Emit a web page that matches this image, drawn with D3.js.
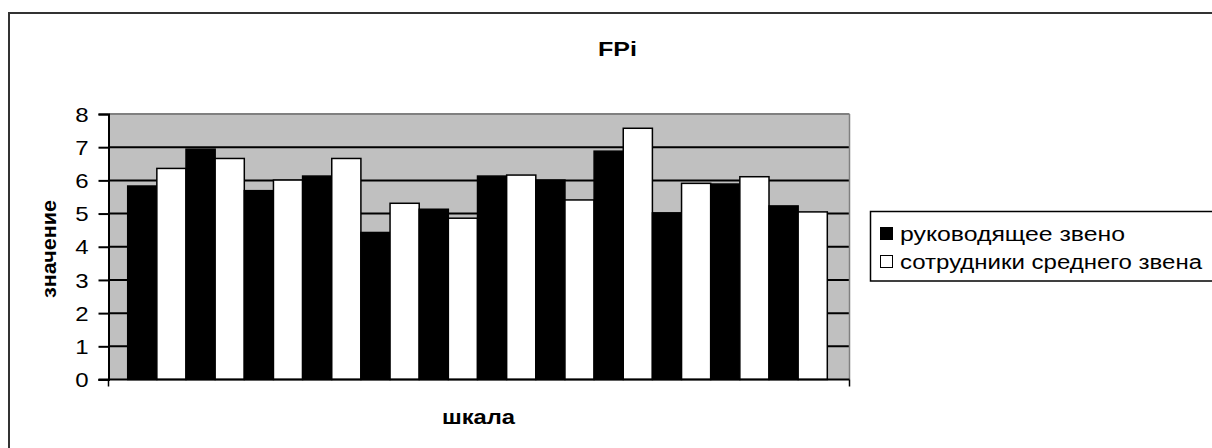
<!DOCTYPE html>
<html>
<head>
<meta charset="utf-8">
<script src="https://cdn.jsdelivr.net/npm/d3@7"></script>
<style>
  html, body { margin: 0; padding: 0; background: #fff; }
  svg { display: block; }
  text { font-family: "Liberation Sans", Arial, sans-serif; fill: #000; }
</style>
</head>
<body>
<svg id="chart" width="1212" height="448"></svg>
<script>
// Scale items (12 pairs of bars), one value per group for each series
const scales = ["1", "2", "3", "4", "5", "6", "7", "8", "9", "10", "11", "12"];
const seriesNames = ["руководящее звено", "сотрудники среднего звена"];
const managers = [5.83, 6.94, 5.69, 6.13, 4.43, 5.13, 6.13, 6.01, 6.88, 5.02, 5.89, 5.23];
const staff    = [6.36, 6.66, 6.01, 6.66, 5.31, 4.86, 6.16, 5.41, 7.57, 5.91, 6.11, 5.05];
const yTicks = [0, 1, 2, 3, 4, 5, 6, 7, 8];
const seriesColors = ["#000000", "#ffffff"];

const svg = d3.select("#chart");

// chart frame
svg.append("path")
  .attr("d", "M9,460 L9,13 L1220,13")
  .attr("fill", "none").attr("stroke", "#333").attr("stroke-width", 2);

const plot = { left: 108.5, right: 849.5, top: 114, bottom: 379.5 };

const y = d3.scaleLinear().domain([0, 8]).range([plot.bottom, plot.top]);
const x = d3.scaleBand().domain(scales).range([127.7, 827.3]).padding(0);
const xs = d3.scaleBand().domain(seriesNames).range([0, x.bandwidth()]).padding(0);

// plot background
svg.append("rect")
  .attr("x", plot.left).attr("y", plot.top)
  .attr("width", plot.right - plot.left).attr("height", plot.bottom - plot.top)
  .attr("fill", "#c0c0c0");

// gridlines
svg.append("g").selectAll("line")
  .data(yTicks.filter(d => d > 0))
  .join("line")
  .attr("x1", plot.left).attr("x2", plot.right)
  .attr("y1", d => y(d)).attr("y2", d => y(d))
  .attr("stroke", d => d === 8 ? "#808080" : "#000")
  .attr("stroke-width", 2);

// right edge of plot area
svg.append("line")
  .attr("x1", plot.right).attr("x2", plot.right)
  .attr("y1", plot.top).attr("y2", plot.bottom)
  .attr("stroke", "#808080").attr("stroke-width", 1.5);

// bars
const rows = scales.map((s, i) => ({ scale: s, values: [managers[i], staff[i]] }));
svg.append("g").selectAll("g")
  .data(rows)
  .join("g")
  .attr("transform", d => `translate(${x(d.scale)},0)`)
  .selectAll("rect")
  .data(d => d.values.map((v, j) => ({ name: seriesNames[j], value: v, j })))
  .join("rect")
  .attr("x", d => xs(d.name))
  .attr("width", xs.bandwidth())
  .attr("y", d => y(d.value))
  .attr("height", d => y(0) - y(d.value))
  .attr("fill", d => seriesColors[d.j])
  .attr("stroke", "#000")
  .attr("stroke-width", 1.5);

// y axis
const yAxis = svg.append("g")
  .attr("transform", `translate(${plot.left},0)`)
  .call(d3.axisLeft(y).tickValues(yTicks).tickSize(10).tickPadding(10).tickFormat(d3.format("d")));
yAxis.select(".domain").attr("stroke", "#000").attr("stroke-width", 2);
yAxis.selectAll(".tick line").attr("stroke", "#000").attr("stroke-width", 2);
yAxis.selectAll(".tick text")
  .attr("x", 0)
  .attr("dy", "0.36em")
  .attr("transform", "translate(-20,0) scale(1.2,1)")
  .style("font-size", "20px").attr("fill", "#000");

// x axis baseline with end ticks
svg.append("line")
  .attr("x1", plot.left - 10).attr("x2", plot.right)
  .attr("y1", plot.bottom).attr("y2", plot.bottom)
  .attr("stroke", "#000").attr("stroke-width", 2);
svg.selectAll(".xtick")
  .data([plot.left, plot.right])
  .join("line")
  .attr("x1", d => d).attr("x2", d => d)
  .attr("y1", plot.bottom).attr("y2", plot.bottom + 7)
  .attr("stroke", "#000").attr("stroke-width", 1.5);

// title
svg.append("text")
  .attr("x", 598).attr("y", 56)
  .attr("textLength", 39).attr("lengthAdjust", "spacingAndGlyphs")
  .style("font-size", "21px").style("font-weight", "bold")
  .text("FPi");

// axis titles
svg.append("text")
  .attr("transform", "translate(56,298) rotate(-90)")
  .attr("textLength", 98).attr("lengthAdjust", "spacingAndGlyphs")
  .style("font-size", "20px").style("font-weight", "bold")
  .text("значение");

svg.append("text")
  .attr("x", 442).attr("y", 424)
  .attr("textLength", 73).attr("lengthAdjust", "spacingAndGlyphs")
  .style("font-size", "20px").style("font-weight", "bold")
  .text("шкала");

// legend
const legendWidths = [225, 302];
const legend = svg.append("g");
legend.append("rect")
  .attr("x", 870.5).attr("y", 211.5)
  .attr("width", 360).attr("height", 69.5)
  .attr("fill", "#fff").attr("stroke", "#000").attr("stroke-width", 1.5);
const items = legend.selectAll("g.item")
  .data(seriesNames)
  .join("g")
  .attr("class", "item")
  .attr("transform", (d, i) => `translate(0,${227 + i * 28})`);
items.append("rect")
  .attr("x", 880.5).attr("y", 0.5)
  .attr("width", 12).attr("height", 12)
  .attr("fill", (d, i) => seriesColors[i])
  .attr("stroke", "#000").attr("stroke-width", 1);
items.append("text")
  .attr("x", 900).attr("y", 14)
  .attr("textLength", (d, i) => legendWidths[i]).attr("lengthAdjust", "spacingAndGlyphs")
  .style("font-size", "20px")
  .text(d => d);
</script>
</body>
</html>
